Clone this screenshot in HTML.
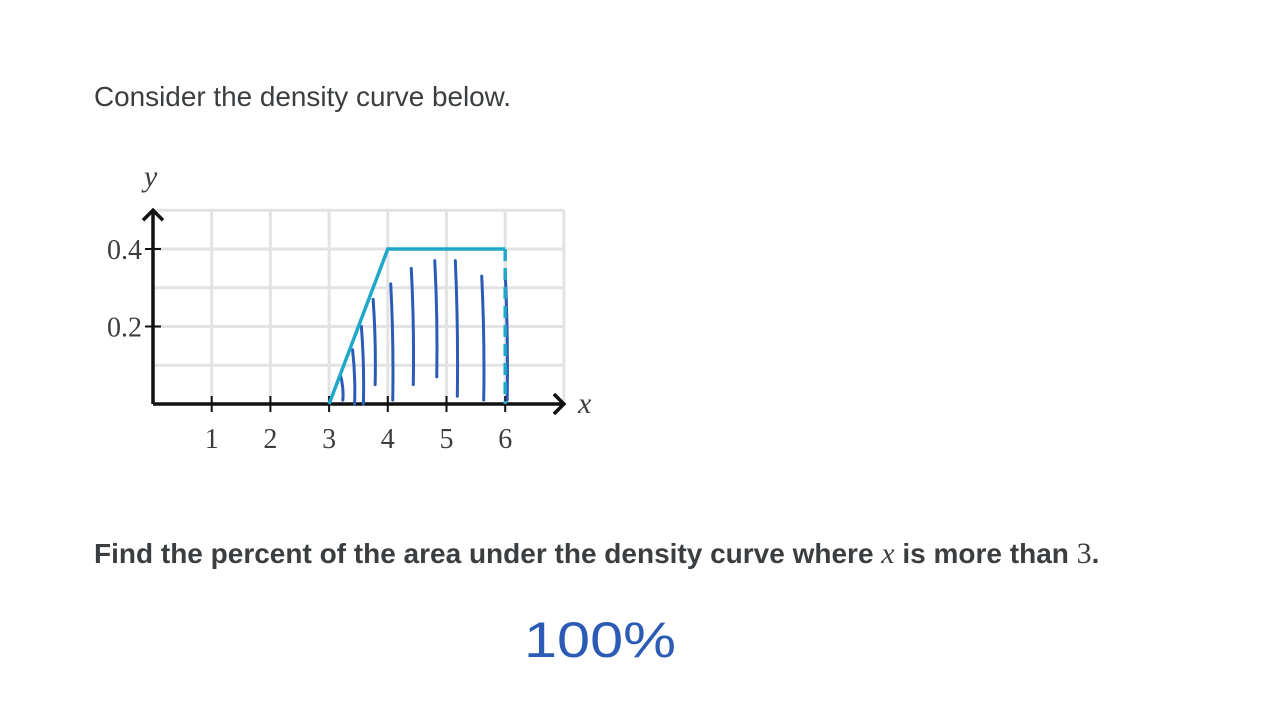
<!DOCTYPE html>
<html><head><meta charset="utf-8">
<style>
html,body{margin:0;padding:0;background:#fff;width:1280px;height:720px;overflow:hidden;font-family:"Liberation Sans",sans-serif;}
.t{position:absolute;color:#3b3e40;font-size:27.9px;white-space:nowrap;}
</style></head>
<body>
<div class="t" style="left:94px;top:81px;">Consider the density curve below.</div>
<div class="t" style="left:94px;top:537px;font-weight:bold;font-size:28px;">Find the percent of the area under the density curve where <i style="font-family:'Liberation Serif',serif;font-weight:normal;font-size:30px">x</i> is more than <span style="font-family:'Liberation Serif',serif;font-weight:normal;font-size:30px">3</span>.</div>
<svg id="chart" width="1280" height="720" style="position:absolute;left:0;top:0">
</svg>
<script>
const xTicks=[1,2,3,4,5,6];
const yTicks=[0.2,0.4];
const curveX=[3,4,6];
const curveY=[0,0.4,0.4];
const shadeX=[3.2,3.4,3.55,3.75,4.05,4.4,4.8,5.15,5.6,6.0];
const shadeTop=[0.07,0.14,0.2,0.27,0.31,0.35,0.37,0.37,0.33,0.34];
const shadeBot=[0.01,0,0,0.05,0.01,0.05,0.07,0.02,0.01,0.01];
const X=v=>153+v*58.7, Y=v=>404-v*387.5;
const ns="http://www.w3.org/2000/svg", svg=document.getElementById('chart');
function mk(tag,at){const e=document.createElementNS(ns,tag);for(const k in at)e.setAttribute(k,at[k]);svg.appendChild(e);return e;}
for(let i=1;i<=7;i++){const g=mk('line',{x1:X(i),x2:X(i),y1:Y(0.5),y2:Y(0),stroke:'#e3e3e5','stroke-width':3});

}
for(let i=1;i<=5;i++){const g=mk('line',{x1:X(0),x2:X(7),y1:Y(i*0.1),y2:Y(i*0.1),stroke:'#e3e3e5','stroke-width':3});

}
const ax=mk('path',{d:`M${X(0)} ${Y(0)}H${X(7)} M${X(7)-10} ${Y(0)-10}L${X(7)} ${Y(0)}L${X(7)-10} ${Y(0)+10} M${X(0)} ${Y(0)}V${Y(0.5)} M${X(0)-10} ${Y(0.5)+10}L${X(0)} ${Y(0.5)}L${X(0)+10} ${Y(0.5)+10}`,stroke:'#111',fill:'none','stroke-width':3.5});


xTicks.forEach(v=>{const l=mk('line',{x1:X(v),x2:X(v),y1:Y(0)-8,y2:Y(0)+8,stroke:'#111','stroke-width':2});


const t=mk('text',{x:X(v),y:448,'text-anchor':'middle','font-size':28,fill:'#3b3e40','font-family':'Liberation Serif, serif'});t.textContent=v;

});
yTicks.forEach(v=>{const l=mk('line',{x1:X(0)-8,x2:X(0)+8,y1:Y(v),y2:Y(v),stroke:'#111','stroke-width':2});


const t=mk('text',{x:142,y:Y(v)+10,'text-anchor':'end','font-size':28,fill:'#3b3e40','font-family':'Liberation Serif, serif'});t.textContent=v;

});
let t=mk('text',{x:578,y:413,'font-size':30,'font-style':'italic',fill:'#3b3e40','font-family':'Liberation Serif, serif'});t.textContent='x';


t=mk('text',{x:144,y:186,'font-size':30,'font-style':'italic',fill:'#3b3e40','font-family':'Liberation Serif, serif'});t.textContent='y';


shadeX.forEach((v,i)=>{const s=mk('path',{d:`M${X(v)} ${Y(shadeTop[i])} Q${X(v)+3} ${(Y(shadeTop[i])+Y(shadeBot[i]))/2} ${X(v)+2} ${Y(shadeBot[i])}`,stroke:'#2b5bb5',fill:'none','stroke-width':3,'stroke-linecap':'round'});

});
const c=mk('polyline',{points:curveX.map((v,i)=>X(v)+','+Y(curveY[i])).join(' '),stroke:'#1fa8c9',fill:'none','stroke-width':3.5});


const d=mk('line',{x1:X(6),x2:X(6),y1:Y(0.4),y2:Y(0),stroke:'#1fa8c9','stroke-width':3.5,'stroke-dasharray':'12 7'});


const a=mk('text',{x:524,y:657,'font-size':50,fill:'#2b5bb5','font-family':'Liberation Sans, sans-serif','textLength':152,'lengthAdjust':'spacingAndGlyphs'});a.textContent='100%';


</script>
</body></html>
